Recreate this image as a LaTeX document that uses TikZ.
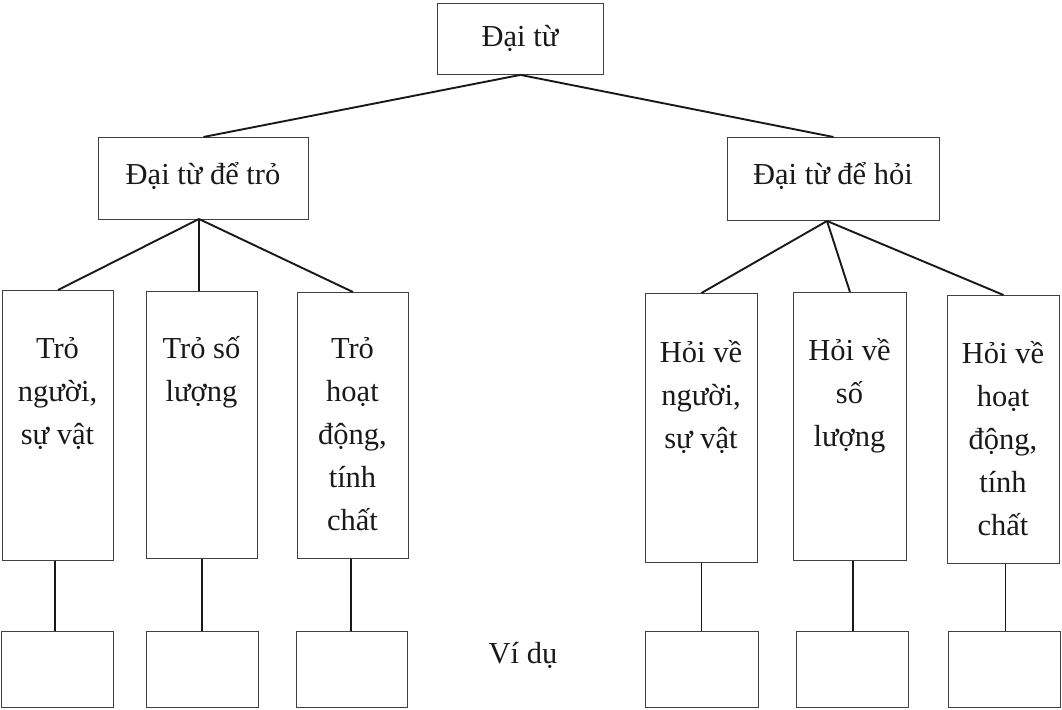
\documentclass[tikz,border=0pt]{standalone}
\usepackage{fontspec}
\setmainfont{Liberation Serif}
\newcommand{\mlines}[1]{\begin{tabular}[t]{@{}c@{}}#1\end{tabular}}
\begin{document}
\begin{tikzpicture}[x=1pt,y=-1pt,
  box/.style={draw=black!75, line width=0.9pt, inner sep=0pt, anchor=north west},
  conn/.style={draw=black!90, line width=1.9pt},
  lbl/.style={font=\fontsize{30.5}{43}\selectfont, inner sep=0pt, text=black!90}]
\useasboundingbox (0,0) rectangle (1062,709);
% top
\node[box, minimum width=166pt, minimum height=71pt] (top) at (437,3) {};
\node[lbl] (toptx) at (520,38) {Đại từ};
% middle
\node[box, minimum width=210pt, minimum height=82pt] (L) at (98,137) {};
\node[lbl] (Ltx) at (203,176) {Đại từ để trỏ};
\node[box, minimum width=212pt, minimum height=83pt] (R) at (727,137) {};
\node[lbl] (Rtx) at (833,176) {Đại từ để hỏi};
% tall boxes
\node[box, minimum width=111pt, minimum height=270pt] (T1) at (2,290) {};
\node[box, minimum width=111pt, minimum height=267pt] (T2) at (146,291) {};
\node[box, minimum width=111pt, minimum height=266pt] (T3) at (297,292) {};
\node[box, minimum width=112pt, minimum height=269pt] (T4) at (645,293) {};
\node[box, minimum width=113pt, minimum height=268pt] (T5) at (793,292) {};
\node[box, minimum width=112pt, minimum height=268pt] (T6) at (947,295) {};
\node[lbl, anchor=base] (T1tx) at (57.5,358) {\mlines{Trỏ\\người,\\sự vật}};
\node[lbl, anchor=base] (T2tx) at (201.5,358) {\mlines{Trỏ số\\lượng}};
\node[lbl, anchor=base] (T3tx) at (352.5,358) {\mlines{Trỏ\\hoạt\\động,\\tính\\chất}};
\node[lbl, anchor=base] (T4tx) at (701,362) {\mlines{Hỏi về\\người,\\sự vật}};
\node[lbl, anchor=base] (T5tx) at (849.5,360) {\mlines{Hỏi về\\số\\lượng}};
\node[lbl, anchor=base] (T6tx) at (1003,363) {\mlines{Hỏi về\\hoạt\\động,\\tính\\chất}};
% bottom boxes
\node[box, minimum width=112pt, minimum height=76pt] (B1) at (1,631) {};
\node[box, minimum width=112pt, minimum height=76pt] (B2) at (146,631) {};
\node[box, minimum width=111pt, minimum height=76pt] (B3) at (296,631) {};
\node[box, minimum width=113pt, minimum height=76pt] (B4) at (645,631) {};
\node[box, minimum width=112pt, minimum height=76pt] (B5) at (796,631) {};
\node[box, minimum width=112pt, minimum height=76pt] (B6) at (948,631) {};
\node[lbl, anchor=base] (vidu) at (523,663) {Ví dụ};
% connectors
\coordinate (jl) at (199,219);
\coordinate (jr) at (827,221);
\draw[conn] (top.south) -- (L.north);
\draw[conn] (top.south) -- (R.north);
\draw[conn] (jl) -- (T1.north);
\draw[conn] (jl) -- (T2.north -| jl);
\draw[conn] (jl) -- (T3.north);
\draw[conn] (jr) -- (T4.north);
\draw[conn] (jr) -- (T5.north);
\draw[conn] (jr) -- (T6.north);
\draw[conn] ([xshift=-3pt]T1.south) -- ([xshift=-3pt]T1.south |- B1.north);
\draw[conn] (T2.south) -- (T2.south |- B2.north);
\draw[conn] ([xshift=-2pt]T3.south) -- ([xshift=-2pt]T3.south |- B3.north);
\draw[conn] (T4.south) -- (T4.south |- B4.north);
\draw[conn] ([xshift=3pt]T5.south) -- ([xshift=3pt]T5.south |- B5.north);
\draw[conn] ([xshift=2pt]T6.south) -- ([xshift=2pt]T6.south |- B6.north);
\end{tikzpicture}
\end{document}
